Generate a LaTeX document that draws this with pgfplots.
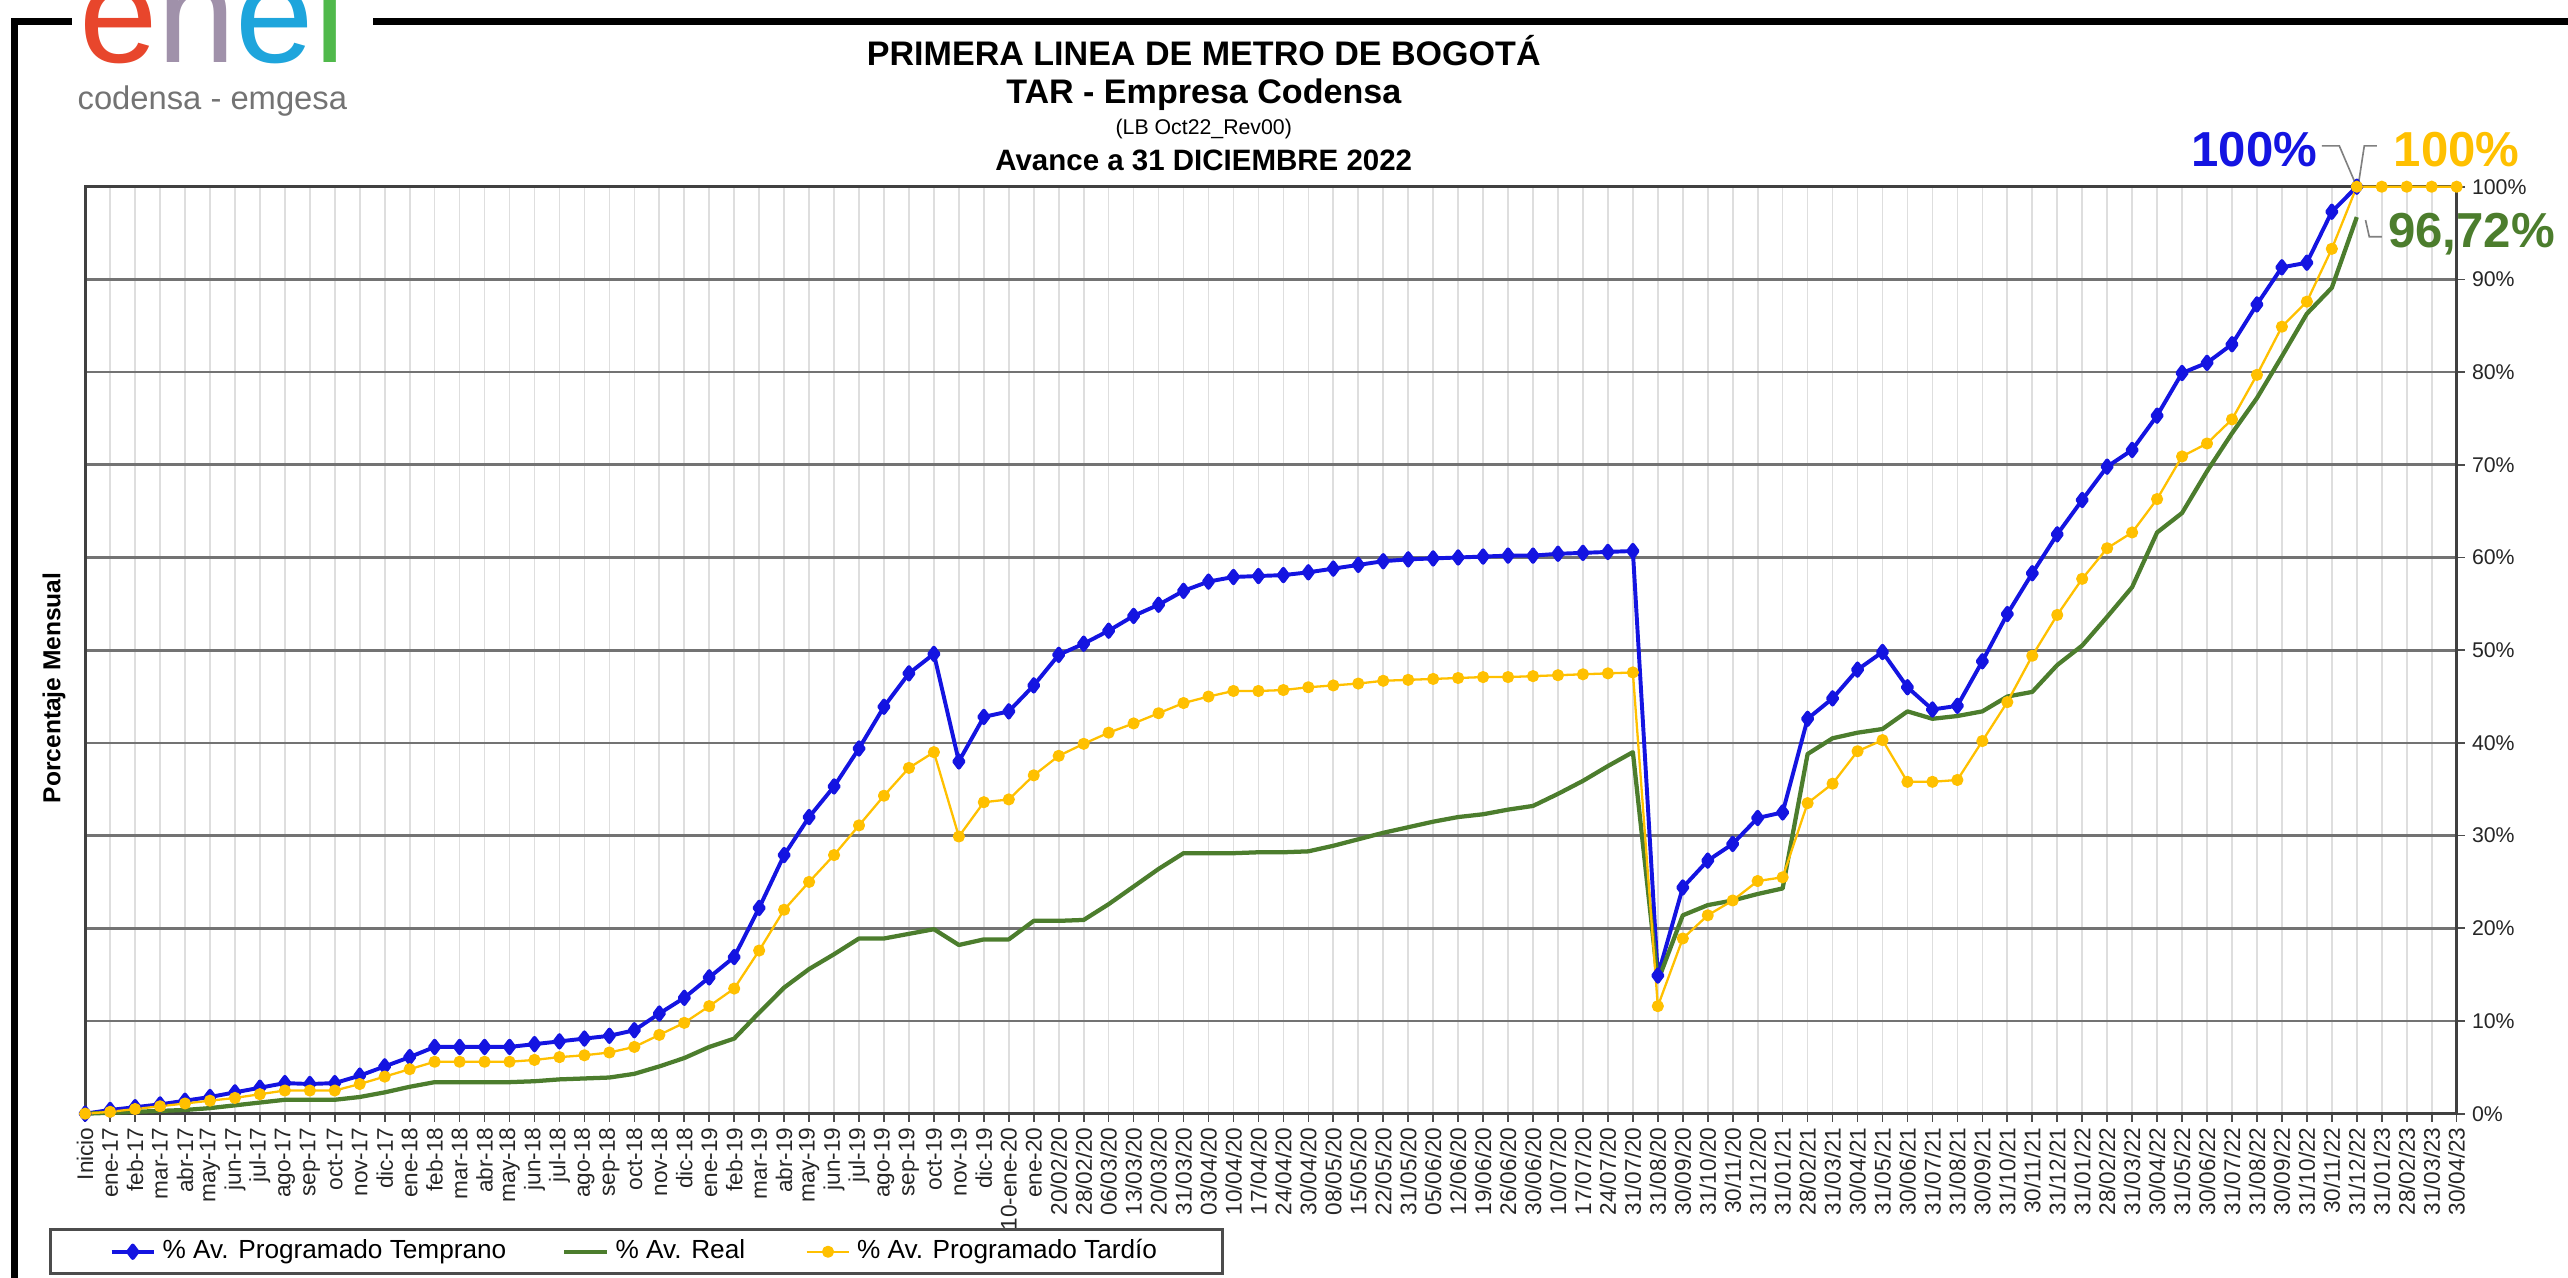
\documentclass[border=0pt]{standalone}
\usepackage{fontspec}
\setmainfont{Liberation Sans}
\usepackage{pgfplots}
\usepackage{pgfplotstable}
\pgfplotsset{compat=1.18}

\definecolor{avblue}{RGB}{20,20,225}
\definecolor{avgreen}{RGB}{76,125,45}
\definecolor{avyellow}{RGB}{255,192,0}
\definecolor{enelred}{RGB}{232,70,44}
\definecolor{enelgray}{RGB}{160,145,170}
\definecolor{enelblue}{RGB}{30,165,220}
\definecolor{enelgreen}{RGB}{80,185,75}

% i = categoria, temp = Temprano, real = Real, tard = Tardio
\pgfplotstableread{
i temp real tard
0 0 0 0
1 0.4 0.1 0.2
2 0.7 0.2 0.5
3 1.0 0.3 0.8
4 1.4 0.4 1.1
5 1.8 0.6 1.4
6 2.3 0.9 1.7
7 2.8 1.2 2.1
8 3.3 1.5 2.5
9 3.2 1.5 2.5
10 3.3 1.5 2.5
11 4.1 1.8 3.2
12 5.1 2.3 4.0
13 6.1 2.9 4.8
14 7.2 3.4 5.6
15 7.2 3.4 5.6
16 7.2 3.4 5.6
17 7.2 3.4 5.6
18 7.5 3.5 5.8
19 7.8 3.7 6.1
20 8.1 3.8 6.3
21 8.4 3.9 6.6
22 9.0 4.3 7.2
23 10.8 5.1 8.5
24 12.5 6.0 9.8
25 14.7 7.2 11.6
26 16.9 8.1 13.5
27 22.2 10.9 17.6
28 27.9 13.6 22.0
29 32.0 15.6 25.0
30 35.3 17.2 27.9
31 39.4 18.9 31.1
32 43.9 18.9 34.3
33 47.5 19.4 37.3
34 49.6 19.9 39.0
35 38.0 18.2 29.9
36 42.8 18.8 33.6
37 43.4 18.8 33.9
38 46.2 20.8 36.5
39 49.5 20.8 38.6
40 50.7 20.9 39.9
41 52.1 22.6 41.1
42 53.7 24.5 42.1
43 54.9 26.4 43.2
44 56.4 28.1 44.3
45 57.4 28.1 45.0
46 57.9 28.1 45.6
47 58.0 28.2 45.6
48 58.1 28.2 45.7
49 58.4 28.3 46.0
50 58.8 28.9 46.2
51 59.2 29.6 46.4
52 59.6 30.3 46.7
53 59.8 30.9 46.8
54 59.9 31.5 46.9
55 60.0 32.0 47.0
56 60.1 32.3 47.1
57 60.2 32.8 47.1
58 60.2 33.2 47.2
59 60.4 34.5 47.3
60 60.5 35.9 47.4
61 60.6 37.5 47.5
62 60.7 39.0 47.6
63 14.9 14.3 11.6
64 24.4 21.4 18.9
65 27.3 22.5 21.4
66 29.1 23.0 23.0
67 31.9 23.7 25.1
68 32.5 24.3 25.5
69 42.6 38.8 33.5
70 44.8 40.5 35.6
71 47.9 41.1 39.1
72 49.8 41.5 40.3
73 46.0 43.4 35.8
74 43.6 42.6 35.8
75 44.0 42.9 36.0
76 48.8 43.4 40.2
77 53.9 45.0 44.4
78 58.3 45.5 49.4
79 62.5 48.4 53.8
80 66.2 50.5 57.7
81 69.8 53.6 61.0
82 71.6 56.8 62.7
83 75.3 62.7 66.3
84 79.9 64.8 70.9
85 81.0 69.3 72.3
86 83.0 73.4 74.9
87 87.3 77.2 79.7
88 91.3 81.7 84.9
89 91.8 86.3 87.6
90 97.3 89.1 93.3
91 100 96.72 100
92 nan nan 100
93 nan nan 100
94 nan nan 100
95 nan nan 100
}\avance

\begin{document}
\begin{tikzpicture}
\useasboundingbox (0,0) rectangle (784pt,-390pt);

% marco exterior
\draw[black, line width=2pt] (4.5pt,-392pt) -- (4.5pt,-6.5pt) -- (22pt,-6.5pt);
\draw[black, line width=2pt] (114pt,-6.5pt) -- (786pt,-6.5pt);

% logo
\node[anchor=base west, inner sep=0pt, font=\fontsize{43}{43}\selectfont] at (24pt,-19pt)
  {\textcolor{enelred}{e}\textcolor{enelgray}{n}\textcolor{enelblue}{e}\textcolor{enelgreen}{l}};
\node[anchor=base west, inner sep=0pt, text=black!55, font=\fontsize{10}{10}\selectfont] at (23.5pt,-33.5pt)
  {codensa - emgesa};

% titulos
\node[anchor=base, inner sep=0pt, font=\bfseries\fontsize{10.4}{11}\selectfont] at (367.5pt,-20pt)
  {PRIMERA LINEA DE METRO DE BOGOTÁ};
\node[anchor=base, inner sep=0pt, font=\bfseries\fontsize{10.4}{11}\selectfont] at (367.5pt,-31.5pt)
  {TAR - Empresa Codensa};
\node[anchor=base, inner sep=0pt, font=\fontsize{6.5}{7}\selectfont] at (367.5pt,-41pt)
  {(LB Oct22\_Rev00)};
\node[anchor=base, inner sep=0pt, font=\bfseries\fontsize{9}{10}\selectfont] at (367.5pt,-52pt)
  {Avance a 31 DICIEMBRE 2022};

% etiqueta eje y
\node[rotate=90, inner sep=0pt, font=\bfseries\fontsize{7.5}{8}\selectfont] at (16.5pt,-210pt)
  {Porcentaje Mensual};

\begin{axis}[
  at={(26pt,-340pt)}, anchor=south west,
  scale only axis, width=724pt, height=283pt,
  xmin=0, xmax=95, ymin=0, ymax=100,
  clip=false,
  unbounded coords=jump,
  xtick={0,...,95},
  xticklabels={Inicio, ene-17, feb-17, mar-17, abr-17, may-17, jun-17, jul-17, ago-17, sep-17, oct-17, nov-17, dic-17,
    ene-18, feb-18, mar-18, abr-18, may-18, jun-18, jul-18, ago-18, sep-18, oct-18, nov-18, dic-18,
    ene-19, feb-19, mar-19, abr-19, may-19, jun-19, jul-19, ago-19, sep-19, oct-19, nov-19, dic-19,
    10-ene-20, ene-20, 20/02/20, 28/02/20, 06/03/20, 13/03/20, 20/03/20, 31/03/20, 03/04/20, 10/04/20,
    17/04/20, 24/04/20, 30/04/20, 08/05/20, 15/05/20, 22/05/20, 31/05/20, 05/06/20, 12/06/20, 19/06/20,
    26/06/20, 30/06/20, 10/07/20, 17/07/20, 24/07/20, 31/07/20, 31/08/20, 30/09/20, 31/10/20, 30/11/20, 31/12/20,
    31/01/21, 28/02/21, 31/03/21, 30/04/21, 31/05/21, 30/06/21, 31/07/21, 31/08/21, 30/09/21, 31/10/21, 30/11/21, 31/12/21,
    31/01/22, 28/02/22, 31/03/22, 30/04/22, 31/05/22, 30/06/22, 31/07/22, 31/08/22, 30/09/22, 31/10/22, 30/11/22, 31/12/22,
    31/01/23, 28/02/23, 31/03/23, 30/04/23},
  ytick={0,10,...,100},
  yticklabel={\pgfmathprintnumber{\tick}\%},
  /pgf/number format/assume math mode=true,
  xtick pos=left, ytick pos=right, yticklabel pos=right,
  tick align=outside,
  major tick length=2.5pt,
  tick style={black!70, line width=0.5pt},
  xticklabel style={rotate=90, anchor=east, inner sep=1.5pt, text=black!85,
    font=\fontsize{6.9}{7.5}\selectfont},
  yticklabel style={anchor=west, inner sep=2pt, text=black!85, font=\fontsize{6.5}{7}\selectfont},
  xmajorgrids, ymajorgrids,
  x grid style={black!13, line width=0.5pt},
  y grid style={black!55, line width=0.8pt},
  axis line style={black!75, line width=0.9pt},
  legend columns=3,
  legend cell align=left,
  legend image code/.code={\draw[mark repeat=2,mark phase=2] plot coordinates {(0pt,0pt) (6.5pt,0pt) (13pt,0pt)};},
  legend style={at={(-0.0152,-0.1237)}, anchor=north west, draw=black!70, line width=0.9pt,
    font=\fontsize{8}{9}\selectfont, inner xsep=18pt, inner ysep=1pt,
    /tikz/every even column/.append style={column sep=2pt}},
]
\addplot[avblue, line width=1.2pt, line join=round, mark=diamond*, mark size=1.9pt,
  mark options={solid, fill=avblue}] table[x=i, y=temp] {\avance};
\addlegendentry{\makebox[118pt][l]{\% Av. Programado Temprano}}
\addplot[avgreen, line width=1.3pt, line join=round] table[x=i, y=real] {\avance};
\addlegendentry{\makebox[54pt][l]{\% Av. Real}}
\addplot[avyellow, line width=0.7pt, line join=round, mark=*, mark size=1.5pt,
  mark options={solid, fill=avyellow}] table[x=i, y=tard] {\avance};
\addlegendentry{\% Av. Programado Tardío}

% etiquetas de valor final
\draw[black!50, line width=0.5pt] (axis cs:89.6,104.4) -- (axis cs:90.3,104.4) -- (axis cs:91,100);
\draw[black!50, line width=0.5pt] (axis cs:91.8,104.4) -- (axis cs:91.3,104.4) -- (axis cs:91.05,100);
\draw[black!50, line width=0.5pt] (axis cs:92.0,94.6) -- (axis cs:91.5,94.6) -- (axis cs:91.35,96.4);
\node[avblue, inner sep=0pt, font=\bfseries\fontsize{15}{15}\selectfont] at (axis cs:86.9,104.0) {100\%};
\node[avyellow, inner sep=0pt, font=\bfseries\fontsize{15}{15}\selectfont] at (axis cs:95.0,104.0) {100\%};
\node[avgreen, inner sep=0pt, font=\bfseries\fontsize{15}{15}\selectfont] at (axis cs:95.6,94.9) {96,72\%};
\end{axis}
\end{tikzpicture}
\end{document}
